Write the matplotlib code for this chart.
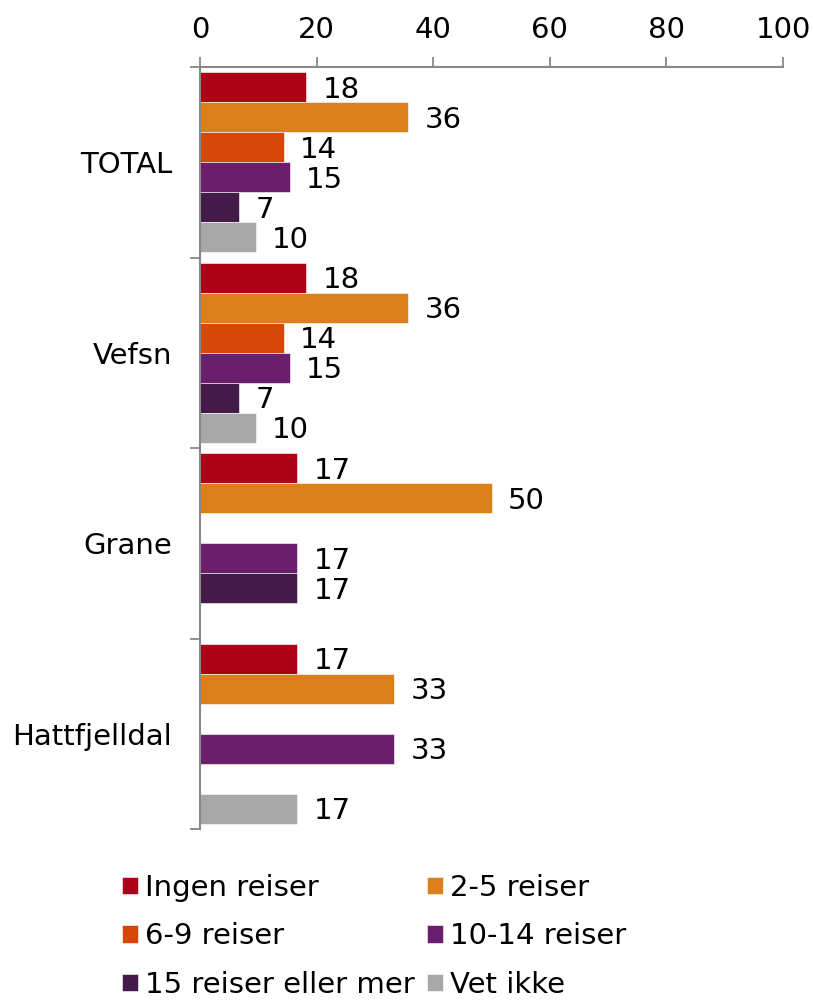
import matplotlib
matplotlib.use("Agg")
import matplotlib.pyplot as plt
import numpy as np

plt.rcParams['font.family'] = ['DejaVu Sans']

categories = ["TOTAL", "Vefsn", "Grane", "Hattfjelldal"]
series_names = ["Ingen reiser", "2-5 reiser", "6-9 reiser", "10-14 reiser",
                "15 reiser eller mer", "Vet ikke"]
colors = ["#AE0016", "#DC7F1A", "#D54807", "#6A1E6C", "#441A48", "#A8A8A8"]

# values per series, in category order (NaN = no bar)
ingen = [18.2, 18.2, 16.7, 16.7]
to_fem = [35.7, 35.7, 50.0, 33.3]
seks_ni = [14.4, 14.4, np.nan, np.nan]
ti_fjorten = [15.4, 15.4, 16.7, 33.3]
femten_pluss = [6.7, 6.7, 16.7, np.nan]
vet_ikke = [9.6, 9.6, np.nan, 16.7]
series = [ingen, to_fem, seks_ni, ti_fjorten, femten_pluss, vet_ikke]

xticks = [0, 20, 40, 60, 80, 100]

FS = 21
fig = plt.figure(figsize=(8.13, 10.02), dpi=100)
ax = fig.add_axes([200/813, 1-829/1002, 583/813, 762/1002])

n = len(series)
h = 30/190.5
ypos = np.arange(len(categories))
handles = []
for i, (vals, c, name) in enumerate(zip(series, colors, series_names)):
    y = ypos + (i - (n-1)/2) * h
    v = np.array(vals, dtype=float)
    b = ax.barh(y, np.nan_to_num(v), height=h, color=c, label=name,
                edgecolor='white', linewidth=0.4)
    handles.append(b)
    for yy, vv in zip(y, v):
        if not np.isnan(vv):
            ax.text(vv + 2.8, yy + 0.014, f"{vv:.0f}", va='center', ha='left',
                    fontsize=FS)

ax.set_xlim(0, 100)
ax.set_ylim(len(categories)-0.5, -0.5)
ax.xaxis.tick_top()
ax.set_xticks(xticks)
ax.set_xticklabels([str(t) for t in xticks], fontsize=FS)
ax.tick_params(axis='x', direction='out', length=7.5, width=1.3,
               color='#888888', pad=9)
ax.set_yticks(ypos)
ax.set_yticklabels(categories, fontsize=FS)
ax.set_yticks(np.arange(-0.5, len(categories)), minor=True)
ax.tick_params(axis='y', which='major', length=0, pad=20)
ax.tick_params(axis='y', which='minor', direction='out', length=7.5,
               width=1.3, color='#888888')
for s in ['right', 'bottom']:
    ax.spines[s].set_visible(False)
for s in ['left', 'top']:
    ax.spines[s].set_color('#888888')
    ax.spines[s].set_linewidth(1.5)

order = [0, 2, 4, 1, 3, 5]
leg = fig.legend([handles[i] for i in order], [series_names[i] for i in order],
                 ncol=2, loc='upper left', bbox_to_anchor=(122/813, 1-874/1002),
                 frameon=False, fontsize=FS, handlelength=0.55,
                 handleheight=0.55, handletextpad=0.25, columnspacing=0.4,
                 labelspacing=0.7, borderaxespad=0, borderpad=0)

fig.savefig("out.png", dpi=100)
